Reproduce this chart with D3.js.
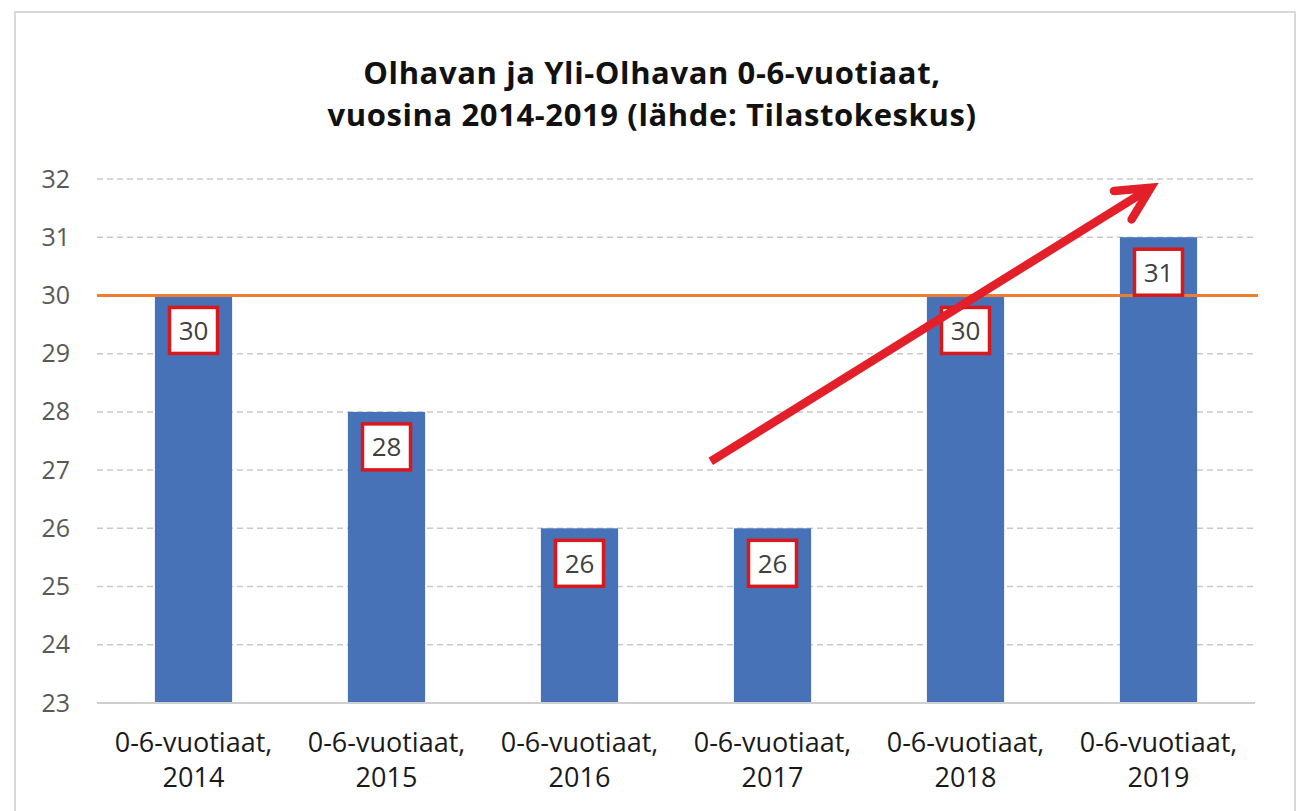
<!DOCTYPE html>
<html>
<head>
<meta charset="utf-8">
<script src="https://cdn.jsdelivr.net/npm/d3@7"></script>
<style>
  body { margin: 0; background: #fff; }
  text { font-family: "Open Sans", "Noto Sans", sans-serif; }
</style>
</head>
<body>
<svg id="chart" width="1303" height="811"></svg>
<script>
// data
var years = ["2014", "2015", "2016", "2017", "2018", "2019"];
var values = [30, 28, 26, 26, 30, 31];
var catPrefix = "0-6-vuotiaat,";
var yTicks = [23, 24, 25, 26, 27, 28, 29, 30, 31, 32];
var titleLines = ["Olhavan ja Yli-Olhavan 0-6-vuotiaat,", "vuosina 2014-2019 (lähde: Tilastokeskus)"];
var refLine = 30;
// arrow annotation in data terms: [year, offset in bands, value]
var arrowFrom = ["2017", -0.32, 27.15];
var arrowTo = ["2019", -0.04, 31.85];

var svg = d3.select("#chart");
var margin = {left: 97, right: 48, top: 179, bottom: 108};
var W = 1303, H = 811;

// chart frame
svg.append("rect")
  .attr("x", 15).attr("y", 12)
  .attr("width", 1280).attr("height", 820)
  .attr("fill", "#fff")
  .attr("stroke", "#d9d9d9")
  .attr("stroke-width", 2);

var x = d3.scaleBand()
  .domain(years)
  .range([margin.left, W - margin.right])
  .paddingInner(0.6)
  .paddingOuter(0.3);

var y = d3.scaleLinear()
  .domain([23, 32])
  .range([H - margin.bottom, margin.top]);

// title, one text per line
svg.append("g")
  .selectAll("text")
  .data(titleLines)
  .join("text")
  .attr("x", 652)
  .attr("y", function(d, i) { return 84 + i * 42; })
  .attr("text-anchor", "middle")
  .attr("font-weight", "bold")
  .attr("font-size", 31)
  .attr("letter-spacing", 0.6)
  .attr("fill", "#111")
  .text(function(d) { return d; });

// gridlines
svg.append("g")
  .selectAll("line")
  .data(yTicks.filter(function(d) { return d > 23; }))
  .join("line")
  .attr("x1", margin.left).attr("x2", W - margin.right)
  .attr("y1", function(d) { return y(d); })
  .attr("y2", function(d) { return y(d); })
  .attr("stroke", "#c9c9c9")
  .attr("stroke-width", 1.5)
  .attr("stroke-dasharray", "6,4");

// y axis labels
var yAxis = svg.append("g")
  .attr("transform", "translate(" + (margin.left - 27) + ",0)")
  .call(d3.axisLeft(y).tickValues(yTicks).tickSize(0).tickPadding(0));
yAxis.select(".domain").remove();
yAxis.selectAll("text")
  .attr("font-size", 25)
  .attr("fill", "#595959")
  .attr("font-family", "Open Sans, sans-serif");

// bars
svg.append("g")
  .selectAll("rect")
  .data(values)
  .join("rect")
  .attr("x", function(d, i) { return x(years[i]); })
  .attr("y", function(d) { return y(d); })
  .attr("width", x.bandwidth())
  .attr("height", function(d) { return y(23) - y(d); })
  .attr("fill", "#4872b8");

// baseline
svg.append("line")
  .attr("x1", margin.left).attr("x2", W - margin.right)
  .attr("y1", y(23)).attr("y2", y(23))
  .attr("stroke", "#cfcfcf")
  .attr("stroke-width", 2);

// reference line at 30
svg.append("line")
  .attr("x1", margin.left).attr("x2", W - margin.right + 3)
  .attr("y1", y(refLine)).attr("y2", y(refLine))
  .attr("stroke", "#ed7d31")
  .attr("stroke-width", 3);

// value labels
var lab = svg.append("g")
  .selectAll("g")
  .data(values)
  .join("g")
  .attr("transform", function(d, i) {
    return "translate(" + (x(years[i]) + x.bandwidth() / 2) + "," + (y(d) + 35) + ")";
  });
lab.append("rect")
  .attr("x", -24).attr("y", -23)
  .attr("width", 48).attr("height", 46)
  .attr("fill", "#fff")
  .attr("stroke", "#d7191c")
  .attr("stroke-width", 3.5);
lab.append("text")
  .attr("text-anchor", "middle")
  .attr("dy", "0.36em")
  .attr("font-size", 26)
  .attr("fill", "#404040")
  .text(function(d) { return d; });

// x axis labels
var xl = svg.append("g")
  .selectAll("text")
  .data(years)
  .join("text")
  .attr("text-anchor", "middle")
  .attr("font-size", 27)
  .attr("fill", "#1a1a1a")
  .attr("x", function(d) { return x(d) + x.bandwidth() / 2; })
  .attr("y", y(23) + 49);
xl.append("tspan")
  .attr("x", function(d) { return x(d) + x.bandwidth() / 2; })
  .text(catPrefix);
xl.append("tspan")
  .attr("x", function(d) { return x(d) + x.bandwidth() / 2; })
  .attr("dy", 35)
  .text(function(d) { return d; });

// red arrow
function ax(a) { return x(a[0]) + x.bandwidth() / 2 + a[1] * x.step(); }
var x1 = ax(arrowFrom), y1 = y(arrowFrom[2]);
var x2 = ax(arrowTo), y2 = y(arrowTo[2]);
var ang = Math.atan2(y2 - y1, x2 - x1);
svg.append("line")
  .attr("x1", x1).attr("y1", y1)
  .attr("x2", x2 - 5 * Math.cos(ang)).attr("y2", y2 - 5 * Math.sin(ang))
  .attr("stroke", "#e3202a")
  .attr("stroke-width", 8.5);
var head = 37, spread = 0.47;
svg.append("path")
  .attr("d", "M" + (x2 - head * Math.cos(ang - spread)) + "," + (y2 - head * Math.sin(ang - spread)) +
    "L" + x2 + "," + y2 +
    "L" + (x2 - head * Math.cos(ang + spread)) + "," + (y2 - head * Math.sin(ang + spread)))
  .attr("fill", "none")
  .attr("stroke", "#e3202a")
  .attr("stroke-width", 8.5)
  .attr("stroke-linecap", "round")
  .attr("stroke-linejoin", "miter");
</script>
</body>
</html>
